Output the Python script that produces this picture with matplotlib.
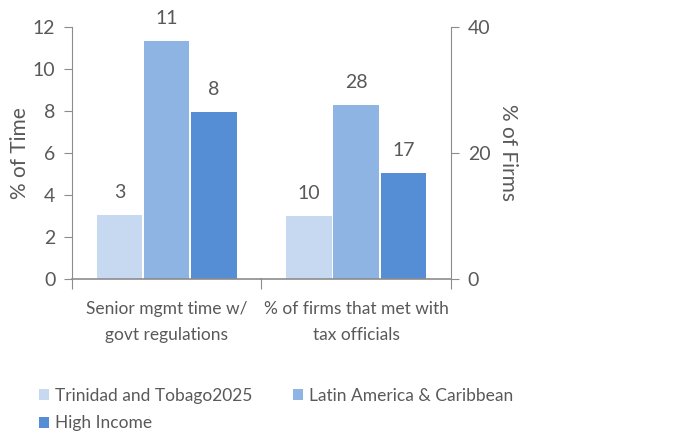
import matplotlib.pyplot as plt

categories = ["Senior mgmt time w/\ngovt regulations", "% of firms that met with\ntax officials"]
series_names = ["Trinidad and Tobago2025", "Latin America & Caribbean", "High Income"]
time_values = [3.05, 11.35, 7.95]     # left axis, % of time
firm_values = [10.0, 27.6, 16.9]      # right axis, % of firms
time_labels = ["3", "11", "8"]
firm_labels = ["10", "28", "17"]
colors = ["#C6D9F0", "#8EB4E3", "#558ED5"]

text_col = "#595959"
line_col = "#8C8C8C"
plt.rcParams["font.family"] = ["Lato", "DejaVu Sans"]
plt.rcParams["font.size"] = 14

fig = plt.figure(figsize=(6.83, 4.33), dpi=100)
ax = fig.add_axes([0.1054, 0.3557, 0.5549, 0.582])
ax2 = ax.twinx()

width = 0.24
offsets = [-0.25, 0.0, 0.25]
handles = []
for i in range(3):
    b1 = ax.bar(0.5 + offsets[i], time_values[i], width, color=colors[i], label=series_names[i])
    ax.bar_label(b1, labels=[time_labels[i]], padding=10, color=text_col, fontsize=14)
    b2 = ax2.bar(1.5 + offsets[i], firm_values[i], width, color=colors[i], clip_on=False)
    ax2.bar_label(b2, labels=[firm_labels[i]], padding=10, color=text_col, fontsize=14)
    handles.append(b1)

ax.set_xlim(0, 2)
ax.set_ylim(0, 12)
ax.set_yticks(range(0, 13, 2))
# secondary zero sits a touch below the primary zero, like the original
ax2.set_ylim(0.3125, 39.6875)
ax2.set_yticks([0, 20, 40])

# x axis pieces: left group on primary zero, right group on secondary zero
ax.axhline(0, xmin=0, xmax=0.5, color=line_col, lw=1.2, clip_on=False)
ax2.axhline(0, xmin=0.5, xmax=1, color=line_col, lw=1.2, clip_on=False)
ax.set_xticks([0, 1, 2])
ax.set_xticklabels(["", "", ""])
ax.set_xticks([0.5, 1.5], minor=True)
ax.set_xticklabels(categories, minor=True, fontsize=12.5, linespacing=1.75)
ax.tick_params(axis="x", which="major", length=7, color=line_col)
ax.tick_params(axis="x", which="minor", length=0, pad=16, colors=text_col)

for a in (ax, ax2):
    for s in ("top", "bottom"):
        a.spines[s].set_visible(False)
    a.spines["left"].set_color(line_col)
    a.spines["right"].set_color(line_col)
ax.spines["right"].set_visible(False)
ax2.spines["left"].set_visible(False)

ax.tick_params(axis="y", length=6, color=line_col, labelcolor=text_col, pad=6)
ax2.tick_params(axis="y", length=6, color=line_col, labelcolor=text_col, pad=6)

ax.set_ylabel("% of Time", color=text_col, fontsize=15, labelpad=2)
ax2.set_ylabel("% of Firms", color=text_col, fontsize=15, rotation=-90, labelpad=20)

# column-major fill: put High Income under the first entry
order = [0, 2, 1]
fig.legend(handles=[handles[k] for k in order], labels=[series_names[k] for k in order],
           loc="upper left", bbox_to_anchor=(0.057, 0.105), ncol=2, frameon=False,
           fontsize=12.5, handlelength=0.6, handleheight=0.6, handletextpad=0.35,
           columnspacing=2.3, labelspacing=0.68, labelcolor=text_col,
           borderpad=0, borderaxespad=0)

fig.savefig("out.png", dpi=100)
